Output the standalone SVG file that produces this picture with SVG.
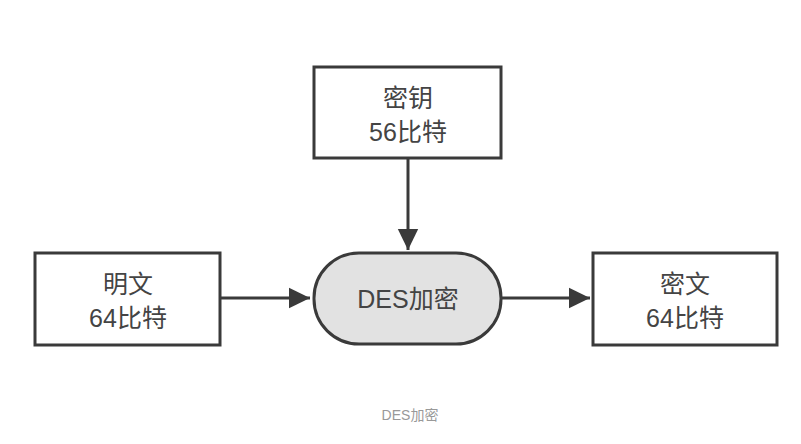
<svg xmlns="http://www.w3.org/2000/svg" width="801" height="444" viewBox="0 0 801 444">
<style>
.box{fill:#fff;stroke:#3a3a3a;stroke-width:3}
.pill{fill:#e2e2e2;stroke:#3a3a3a;stroke-width:3}
.t{font-family:"Liberation Sans","Noto Sans CJK SC",sans-serif;font-size:25px;fill:#444;text-anchor:middle}
.cap{font-family:"Liberation Sans","Noto Sans CJK SC",sans-serif;font-size:14px;fill:#999;text-anchor:middle}
.c{stroke:#3a3a3a;stroke-width:3;fill:none;marker-end:url(#ah)}
</style>
<defs>
<marker id="ah" markerWidth="8" markerHeight="8" refX="7" refY="4" orient="auto" markerUnits="strokeWidth">
<path d="M0,0.6 L7,4 L0,7.4 z" fill="#3a3a3a"/>
</marker>
</defs>
<rect width="801" height="444" fill="#fff"/>
<g id="connectors">
<line class="c" x1="408" y1="159" x2="408" y2="250"/>
<line class="c" x1="221" y1="298" x2="310" y2="298"/>
<line class="c" x1="502" y1="298" x2="590" y2="298"/>
</g>
<g id="key">
<rect class="box" x="314" y="67" width="187" height="91"/>
<text class="t" x="408" y="107">密钥</text>
<text class="t" x="408" y="141">56比特</text>
</g>
<g id="plain">
<rect class="box" x="35" y="253" width="185" height="92"/>
<text class="t" x="128" y="293">明文</text>
<text class="t" x="128" y="327">64比特</text>
</g>
<g id="des">
<rect class="pill" x="314" y="253" width="187" height="91" rx="45" ry="45"/>
<text class="t" x="408" y="308">DES加密</text>
</g>
<g id="cipher">
<rect class="box" x="593" y="253" width="184" height="92"/>
<text class="t" x="685" y="293">密文</text>
<text class="t" x="685" y="327">64比特</text>
</g>
<text class="cap" x="410" y="420">DES加密</text>
</svg>
